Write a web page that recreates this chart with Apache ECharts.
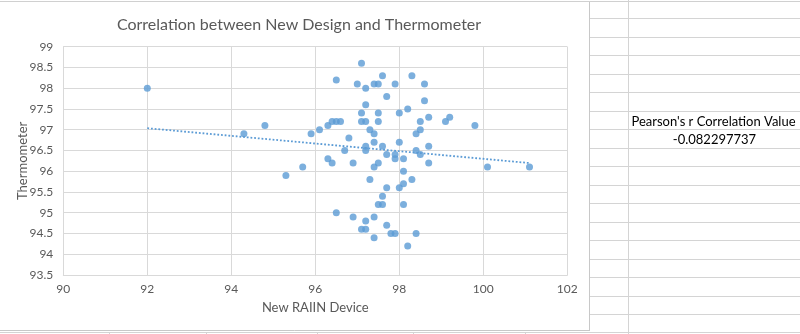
<!DOCTYPE html>
<html><head><meta charset="utf-8">
<script src="https://cdn.jsdelivr.net/npm/echarts@6/dist/echarts.min.js"></script>
<style>html,body{margin:0;padding:0;background:#fff}#c{width:800px;height:334px}</style>
</head><body><div id="c"></div>
<script>
const chartTitle = 'Correlation between New Design and Thermometer';
const xAxisName = 'New RAIIN Device';
const yAxisName = 'Thermometer';
const pearsonLabel = "Pearson's r Correlation Value";
const pearsonValue = '-0.082297737';

const raiinDevice = [92.0,94.3,94.8,95.3,95.7,95.9,96.1,96.3,96.4,96.5,96.6,96.5,96.3,96.4,96.7,96.8,96.9,96.5,96.9,
  97.1,97.0,97.2,97.4,97.5,97.6,97.7,97.9,98.3,98.6,98.6,97.2,97.1,97.5,98.0,98.2,97.1,97.2,97.5,98.5,98.7,
  99.1,99.2,99.8,97.3,97.4,98.4,98.5,97.4,98.0,97.2,97.6,98.7,97.2,98.4,97.7,97.9,98.5,97.9,98.1,97.5,
  97.4,98.7,98.1,100.1,101.1,97.3,98.3,97.7,98.0,98.1,97.6,97.5,97.6,98.1,97.2,97.4,97.7,97.1,97.2,97.4,
  97.8,97.9,98.4,98.2];
const thermometer = [98.0,96.9,97.1,95.9,96.1,96.9,97.0,97.1,97.2,97.2,97.2,98.2,96.3,96.2,96.5,96.8,96.2,95.0,94.9,
  98.6,98.1,98.0,98.1,98.1,98.3,97.8,98.1,98.3,98.1,97.7,97.6,97.4,97.4,97.4,97.5,97.2,97.2,97.2,97.2,97.3,
  97.2,97.3,97.1,97.0,96.9,96.9,97.0,96.7,96.7,96.6,96.6,96.6,96.5,96.5,96.4,96.4,96.4,96.3,96.3,96.2,
  96.1,96.2,96.0,96.1,96.1,95.8,95.8,95.6,95.6,95.7,95.4,95.2,95.2,95.2,94.8,94.9,94.7,94.6,94.6,94.4,
  94.5,94.5,94.5,94.2];

const points = raiinDevice.map((x, i) => [x, thermometer[i]]);
// least-squares linear trendline
const n = points.length;
const mx = raiinDevice.reduce((a, b) => a + b, 0) / n;
const my = thermometer.reduce((a, b) => a + b, 0) / n;
let sxy = 0, sxx = 0;
for (let i = 0; i < n; i++) { sxy += (raiinDevice[i] - mx) * (thermometer[i] - my); sxx += (raiinDevice[i] - mx) ** 2; }
const slope = sxy / sxx, icpt = my - slope * mx;
const x0 = Math.min(...raiinDevice), x1 = Math.max(...raiinDevice);
const trend = [[x0, icpt + slope * x0], [x1, icpt + slope * x1]];

const FONT = 'Lato';
const grey = '#595959';
const cellLine = '#d4d4d4';

// spreadsheet decoration
const gfx = [];
function hline(x1, x2, y, c) { gfx.push({type:'line', silent:true, shape:{x1, y1:y, x2, y2:y}, style:{stroke:c, lineWidth:1}}); }
function vline(x, y1, y2, c) { gfx.push({type:'line', silent:true, shape:{x1:x, y1, x2:x, y2}, style:{stroke:c, lineWidth:1}}); }
hline(0, 800, 1.5, '#d0d0d0');
for (let k = 0; k < 17; k++) hline(589, 800, Math.round(18.3 + 18.5 * k) + 0.5, cellLine);
hline(0, 800, 332.5, cellLine);
vline(628.5, 0, 334, cellLine);
[109.5, 206.5, 317.5, 413.5, 525.5].forEach(x => vline(x, 332, 334, cellLine));
vline(589.5, 2, 331, '#c8c8c8');
hline(0, 589.5, 330.5, '#c8c8c8');
gfx.push({type:'text', x:713.5, y:121.5, silent:true, style:{text:pearsonLabel, font:'13px ' + FONT, fill:'#000', align:'center', verticalAlign:'middle'}});
gfx.push({type:'text', x:714.5, y:140, silent:true, style:{text:pearsonValue, font:'13px ' + FONT, fill:'#000', align:'center', verticalAlign:'middle'}});

const chart = echarts.init(document.getElementById('c'), null, {renderer:'canvas'});
chart.setOption({
  animation:false,
  backgroundColor:'#fff',
  title:{text:chartTitle, left:294, top:12, textAlign:'center', textStyle:{fontFamily:FONT, fontSize:16, fontWeight:'normal', color:grey}},
  grid:{left:63.3, right:232.7, top:46.7, bottom:59},
  xAxis:{type:'value', min:90, max:102, interval:2, name:xAxisName, nameLocation:'middle', nameGap:26, nameMoveOverlap:false,
    nameTextStyle:{fontFamily:FONT, fontSize:13, color:grey},
    axisLine:{show:true, lineStyle:{color:'#d9d9d9'}}, axisTick:{show:false},
    axisLabel:{margin:8, fontFamily:FONT, fontSize:12, color:grey},
    splitLine:{show:true, lineStyle:{color:'#d9d9d9'}}},
  yAxis:{type:'value', min:93.5, max:99, interval:0.5, name:yAxisName, nameLocation:'middle', nameGap:34, nameMoveOverlap:false,
    nameTextStyle:{fontFamily:FONT, fontSize:13, color:grey},
    axisLine:{show:true, lineStyle:{color:'#d9d9d9'}}, axisTick:{show:false},
    axisLabel:{margin:10, fontFamily:FONT, fontSize:12, color:grey},
    splitLine:{show:true, lineStyle:{color:'#d9d9d9'}}},
  series:[
    {type:'scatter', data:points, symbolSize:7, itemStyle:{color:'#5b9bd5'}, z:3},
    {type:'line', data:trend, showSymbol:false, symbol:'none', lineStyle:{color:'#5b9bd5', width:1.8, type:[1.8,1.9]}, z:2}
  ],
  graphic:gfx
});
</script></body></html>
